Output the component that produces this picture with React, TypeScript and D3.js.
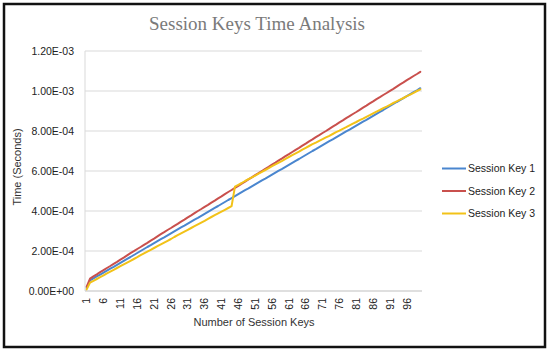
import React from "react";
import * as d3 from "d3";

// Data (values in microseconds; tick labels show seconds)
const categories: number[] = d3.range(1, 101);

const sessionKey1 = [
  15, 53, 63, 73, 82, 92, 102, 112, 121, 131,
  141, 151, 161, 170, 180, 190, 200, 210, 220, 229,
  239, 249, 259, 268, 278, 288, 298, 308, 318, 327,
  337, 347, 357, 366, 376, 386, 396, 406, 416, 425,
  435, 445, 455, 464, 474, 484, 494, 504, 513, 523,
  533, 543, 553, 562, 572, 582, 592, 602, 611, 621,
  631, 641, 651, 660, 670, 680, 690, 700, 709, 719,
  729, 739, 749, 758, 768, 778, 788, 798, 807, 817,
  827, 837, 847, 856, 866, 876, 886, 896, 905, 915,
  925, 935, 945, 954, 964, 974, 984, 994, 1003, 1014,
];

const sessionKey2 = [
  22, 62, 73, 83, 94, 104, 115, 125, 136, 146,
  157, 167, 178, 189, 199, 210, 220, 231, 241, 252,
  262, 273, 284, 294, 305, 315, 326, 336, 347, 357,
  368, 378, 389, 400, 410, 421, 431, 442, 452, 463,
  473, 484, 495, 505, 516, 526, 537, 547, 558, 568,
  579, 589, 600, 611, 621, 632, 642, 653, 663, 674,
  684, 695, 706, 716, 727, 737, 748, 758, 769, 779,
  790, 800, 811, 822, 832, 843, 853, 864, 874, 885,
  895, 906, 917, 927, 938, 948, 959, 969, 980, 990,
  1001, 1011, 1022, 1033, 1043, 1054, 1064, 1075, 1085, 1096,
];

const sessionKey3 = [
  8, 42, 51, 60, 69, 78, 88, 97, 106, 115,
  124, 133, 142, 151, 160, 169, 179, 188, 197, 206,
  215, 224, 233, 242, 251, 260, 270, 279, 288, 297,
  306, 315, 324, 333, 342, 351, 361, 370, 379, 388,
  397, 406, 415, 424, 522, 531, 540, 550, 559, 568,
  577, 587, 596, 605, 614, 624, 633, 642, 651, 661,
  670, 679, 688, 697, 707, 716, 725, 734, 742, 751,
  759, 768, 776, 785, 794, 802, 811, 819, 828, 837,
  845, 854, 862, 871, 879, 888, 897, 905, 914, 922,
  931, 940, 948, 957, 965, 974, 982, 991, 1000, 1008,
];

const seriesNames = ["Session Key 1", "Session Key 2", "Session Key 3"];
const seriesColors = ["#4A86CF", "#C9504D", "#F2C218"];

const yTickValues = [0, 200, 400, 600, 800, 1000, 1200];
const yTickLabels = ["0.00E+00", "2.00E-04", "4.00E-04", "6.00E-04", "8.00E-04", "1.00E-03", "1.20E-03"];
const xTickLabels: number[] = d3.range(1, 101, 5);

const W = 550;
const H = 352;
const plot = { left: 85, right: 422, top: 51, bottom: 291 };
const sans = "'Liberation Sans', Arial, sans-serif";

export default function App() {
  const series = [sessionKey1, sessionKey2, sessionKey3];
  const x = d3
    .scaleBand<number>()
    .domain(categories)
    .range([plot.left, plot.right])
    .paddingInner(0)
    .paddingOuter(0);
  const y = d3.scaleLinear().domain([0, 1200]).range([plot.bottom, plot.top]);
  const cx = (c: number) => (x(c) as number) + x.bandwidth() / 2;

  const line = d3
    .line<number>()
    .x((_, i) => cx(categories[i]))
    .y((d) => y(d));

  return (
    <svg
      width={W}
      height={H}
      style={{ position: "absolute", left: 0, top: 0, background: "#fff" }}
    >
      <rect x={0} y={0} width={W} height={H} fill="#fff" />
      <rect x={4} y={4} width={541} height={343} fill="none" stroke="#111" strokeWidth={2.5} />

      <text
        x={257}
        y={30}
        textAnchor="middle"
        fontFamily="'Liberation Serif', 'Times New Roman', serif"
        fontSize={19}
        fill="#7a7a7a"
      >
        Session Keys Time Analysis
      </text>

      {/* gridlines */}
      {yTickValues.map((v) =>
        v === 0 ? null : (
          <line
            key={v}
            x1={plot.left}
            x2={plot.right}
            y1={y(v)}
            y2={y(v)}
            stroke="#d9d9d9"
            strokeWidth={1}
          />
        )
      )}
      {/* axes */}
      <line x1={plot.left} x2={plot.left} y1={plot.top} y2={plot.bottom} stroke="#d9d9d9" strokeWidth={1} />
      <line x1={plot.left} x2={plot.right} y1={plot.bottom} y2={plot.bottom} stroke="#bfbfbf" strokeWidth={1} />

      {/* y tick labels */}
      {yTickValues.map((v, i) => (
        <text
          key={v}
          x={74}
          y={y(v)}
          dy="0.35em"
          textAnchor="end"
          fontFamily={sans}
          fontSize={10.5}
          fill="#222"
        >
          {yTickLabels[i]}
        </text>
      ))}

      {/* x tick labels */}
      {xTickLabels.map((c) => (
        <text
          key={c}
          transform={`translate(${cx(c)},${298}) rotate(-90)`}
          dy="0.35em"
          textAnchor="end"
          fontFamily={sans}
          fontSize={10.5}
          fill="#222"
        >
          {c}
        </text>
      ))}

      {/* axis titles */}
      <text
        transform={`translate(${17},${167}) rotate(-90)`}
        textAnchor="middle"
        dy="0.35em"
        fontFamily={sans}
        fontSize={11}
        fill="#333"
      >
        Time (Seconds)
      </text>
      <text
        x={254}
        y={326}
        textAnchor="middle"
        fontFamily={sans}
        fontSize={11}
        fill="#333"
      >
        Number of Session Keys
      </text>

      {/* lines */}
      {series.map((s, i) => (
        <path
          key={i}
          d={line(s) || ""}
          fill="none"
          stroke={seriesColors[i]}
          strokeWidth={2}
          strokeLinejoin="round"
          strokeLinecap="round"
        />
      ))}

      {/* legend */}
      {seriesNames.map((n, i) => (
        <g key={n} transform={`translate(0,${168.5 + i * 22.5})`}>
          <line x1={442} x2={466} y1={0} y2={0} stroke={seriesColors[i]} strokeWidth={2} />
          <text x={468} y={0} dy="0.35em" fontFamily={sans} fontSize={10.5} fill="#222">
            {n}
          </text>
        </g>
      ))}
    </svg>
  );
}
